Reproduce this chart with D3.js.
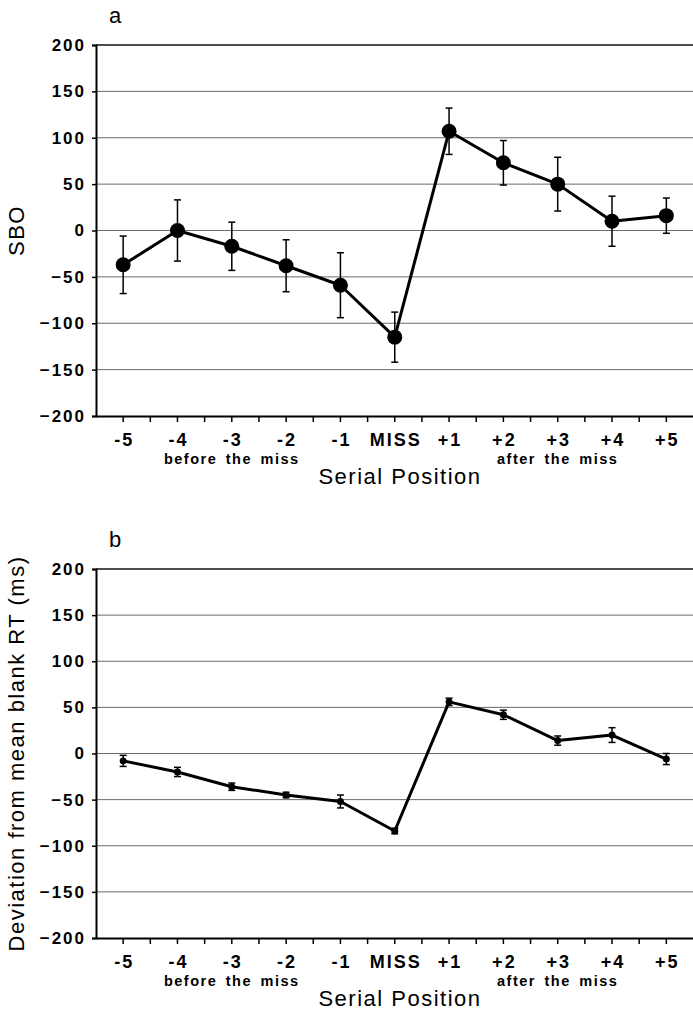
<!DOCTYPE html>
<html lang="en">
<head>
    <meta charset="UTF-8">
    <title>Serial position around a miss</title>
    <script src="https://d3js.org/d3.v7.min.js"></script>
    <style>
        body { margin: 0; background: #fff; font-family: "Liberation Sans", Arial, Helvetica, sans-serif; }
        svg { display: block; }
        .grid line { stroke: #6a6a6a; stroke-width: 1px; }
        .tick-y { font-size: 17px; font-weight: bold; letter-spacing: 2px; }
        .tick-x { font-size: 18px; font-weight: bold; letter-spacing: 2px; }
        .group-label { font-size: 14.5px; font-weight: bold; letter-spacing: 1.5px; word-spacing: 3px; }
        .axis-title { font-size: 22px; letter-spacing: 1.5px; }
        .panel-label { font-size: 22px; }
    </style>
</head>
<body>
<div id="chart"></div>
<script>
    // categories along the x axis
    const categories = ["-5", "-4", "-3", "-2", "-1", "MISS", "+1", "+2", "+3", "+4", "+5"];
    const yTicks = [-200, -150, -100, -50, 0, 50, 100, 150, 200];

    // panel a: SBO
    const sboMean = [-37, 0, -17, -38, -59, -115, 107, 73, 50, 10, 16];
    const sboErr  = [31, 33, 26, 28, 35, 27, 25, 24, 29, 27, 19];

    // panel b: deviation from mean blank RT (ms)
    const rtMean = [-8, -20, -36, -45, -52, -84, 56, 42, 14, 20, -6];
    const rtErr  = [6, 5, 4, 3, 7, 3, 4, 5, 5, 8, 6];

    const width = 693, height = 1011;
    const svg = d3.select("#chart").append("svg")
        .attr("width", width)
        .attr("height", height);

    const x = d3.scaleBand().domain(categories).range([96, 693.5]).paddingInner(0).paddingOuter(0);

    function drawPanel(opts) {
        const { top, bottom, mean, err, title, letter, letterY, r, capW } = opts;
        const y = d3.scaleLinear().domain([-200, 200]).range([bottom, top]);
        const g = svg.append("g");

        // gridlines
        g.append("g").attr("class", "grid")
            .selectAll("line")
            .data(yTicks.filter(d => d !== -200))
            .join("line")
            .attr("x1", 96).attr("x2", width)
            .attr("y1", d => y(d)).attr("y2", d => y(d))
            .style("stroke", d => d === 200 ? "#111" : null)
            .style("stroke-width", d => d === 200 ? 1.5 : null);

        // y axis
        const yAxis = g.append("g")
            .attr("transform", "translate(96,0)")
            .call(d3.axisLeft(y).tickValues(yTicks).tickSize(4).tickPadding(8));
        yAxis.select(".domain").attr("stroke", "#000").attr("stroke-width", 2);
        yAxis.selectAll(".tick line").attr("stroke", "#000").attr("stroke-width", 1.5);
        yAxis.selectAll(".tick text")
            .attr("class", "tick-y")
            .attr("fill", "#000")
            .attr("dx", 2)
            .style("font-family", null).style("font-size", null);
        yAxis.attr("font-family", null).attr("font-size", null);

        // x axis with ticks at centres and minor ticks at band edges
        const xAxis = g.append("g")
            .attr("transform", `translate(0,${bottom})`)
            .call(d3.axisBottom(x).tickSize(6).tickSizeOuter(0).tickPadding(7));
        xAxis.attr("font-family", null).attr("font-size", null);
        xAxis.select(".domain").attr("stroke", "#000").attr("stroke-width", 2);
        xAxis.selectAll(".tick line").attr("stroke", "#000").attr("stroke-width", 1.5);
        xAxis.selectAll(".tick text")
            .attr("class", "tick-x")
            .attr("fill", "#000")
            .attr("dy", "0.95em")
            .attr("dx", 1);
        xAxis.append("g").selectAll("line")
            .data(categories.slice(1))
            .join("line")
            .attr("x1", d => x(d)).attr("x2", d => x(d))
            .attr("y1", 0).attr("y2", 6)
            .attr("stroke", "#000").attr("stroke-width", 1.5);

        // group labels under the ticks
        g.append("text").attr("class", "group-label")
            .attr("x", x("-3") + x.bandwidth() / 2)
            .attr("y", bottom + 48)
            .attr("text-anchor", "middle")
            .text("before the miss");
        g.append("text").attr("class", "group-label")
            .attr("x", x("+3") + x.bandwidth() / 2)
            .attr("y", bottom + 48)
            .attr("text-anchor", "middle")
            .text("after the miss");

        // axis titles
        g.append("text").attr("class", "axis-title")
            .attr("x", 400)
            .attr("y", bottom + 68)
            .attr("text-anchor", "middle")
            .text("Serial Position");
        g.append("text").attr("class", "axis-title")
            .attr("transform", `translate(24,${(top + bottom) / 2}) rotate(-90)`)
            .attr("text-anchor", "middle")
            .text(title);

        // panel letter
        g.append("text").attr("class", "panel-label")
            .attr("x", 115)
            .attr("y", letterY)
            .attr("text-anchor", "middle")
            .text(letter);

        const pts = categories.map((c, i) => ({ c, m: mean[i], e: err[i] }));
        const cx = d => x(d.c) + x.bandwidth() / 2;

        // error bars
        const eb = g.append("g").attr("stroke", "#000").attr("stroke-width", 1.5);
        eb.selectAll(".v").data(pts).join("line")
            .attr("x1", cx).attr("x2", cx)
            .attr("y1", d => y(d.m + d.e)).attr("y2", d => y(d.m - d.e));
        eb.selectAll(".t").data(pts).join("line")
            .attr("x1", d => cx(d) - capW / 2).attr("x2", d => cx(d) + capW / 2)
            .attr("y1", d => y(d.m + d.e)).attr("y2", d => y(d.m + d.e));
        eb.selectAll(".b").data(pts).join("line")
            .attr("x1", d => cx(d) - capW / 2).attr("x2", d => cx(d) + capW / 2)
            .attr("y1", d => y(d.m - d.e)).attr("y2", d => y(d.m - d.e));

        // line
        const line = d3.line().x(cx).y(d => y(d.m));
        g.append("path")
            .datum(pts)
            .attr("d", line)
            .attr("fill", "none")
            .attr("stroke", "#000")
            .attr("stroke-width", 3)
            .attr("stroke-linejoin", "round");

        // markers
        g.selectAll(".dot").data(pts).join("circle")
            .attr("cx", cx)
            .attr("cy", d => y(d.m))
            .attr("r", r)
            .attr("fill", "#000");
    }

    drawPanel({ top: 45, bottom: 416, mean: sboMean, err: sboErr, title: "SBO",
        letter: "a", letterY: 23, r: 7.5, capW: 7 });
    drawPanel({ top: 569, bottom: 938, mean: rtMean, err: rtErr, title: "Deviation from mean blank RT (ms)",
        letter: "b", letterY: 547, r: 3.5, capW: 7 });
</script>
</body>
</html>
